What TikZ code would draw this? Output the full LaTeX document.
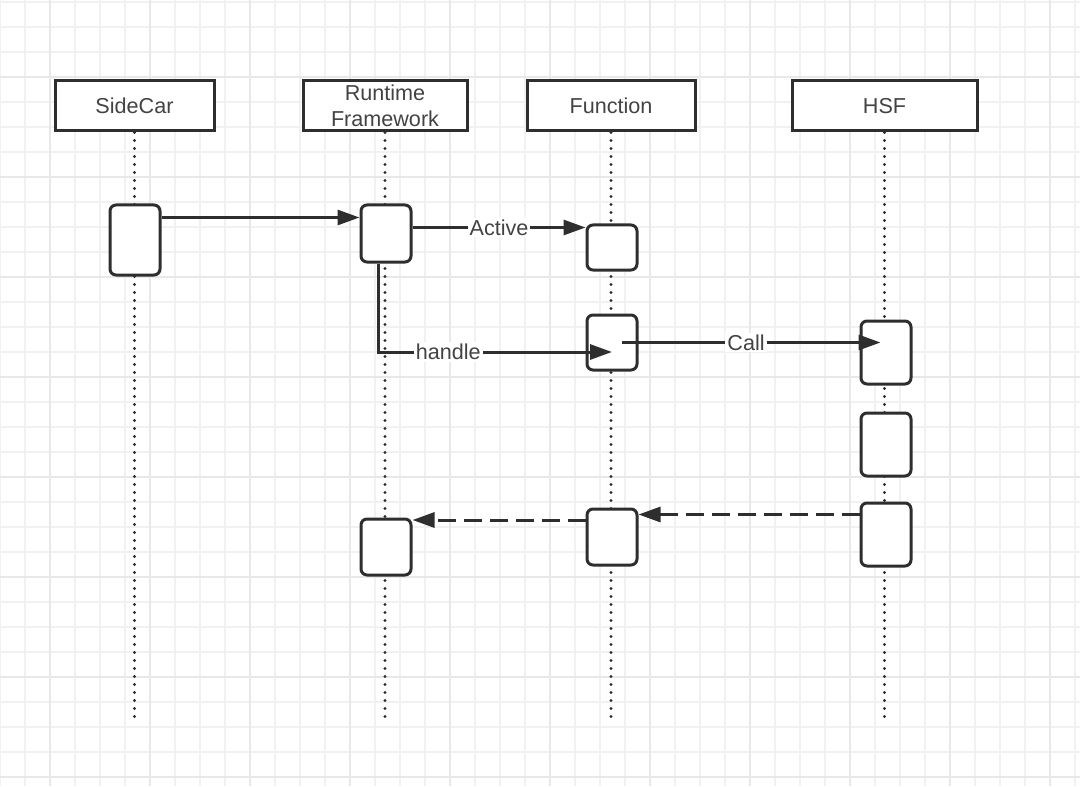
\documentclass[tikz,border=0pt]{standalone}
\usepackage{fontspec}
\setmainfont{Liberation Sans}
\usetikzlibrary{arrows.meta,positioning}
\definecolor{ink}{HTML}{2E2E2E}
\definecolor{gridminor}{HTML}{F1F1F1}
\definecolor{gridmajor}{HTML}{E8E8E8}

\begin{document}
\begin{tikzpicture}[x=0.5pt,y=-0.5pt,->,>={Triangle[length=11pt,width=7.5pt]},
                    line width=1.5pt, color=ink, font=\fontsize{10.8}{13}\selectfont]
	  \tikzstyle{header}=[draw,rectangle,fill=white,inner sep=0pt,minimum height=25pt,
	                      align=center,text=ink!90]
	  \tikzstyle{act}=[draw,rectangle,rounded corners=3pt,fill=white,minimum width=25pt,inner sep=0pt]
	  \tikzstyle{lifeline}=[-,line width=1.7pt,dash pattern=on 0pt off 4pt,line cap=round]
	  \tikzstyle{reply}=[dash pattern=on 9pt off 4pt]
	  \tikzstyle{lbl}=[fill=white,inner sep=1pt,text=ink!90]

	  \useasboundingbox (0,0) rectangle (1080,786);

	  % background grid
	  \foreach \gx in {0,25,...,1075}
	    \draw[-,gridminor,line width=0.6pt] (\gx,0) -- (\gx,786);
	  \foreach \gy in {2,27,...,786}
	    \draw[-,gridminor,line width=0.6pt] (0,\gy) -- (1080,\gy);
	  \foreach \gx in {50,150,...,1050}
	    \draw[-,gridmajor,line width=0.7pt] (\gx,0) -- (\gx,786);
	  \foreach \gy in {77,177,...,786}
	    \draw[-,gridmajor,line width=0.7pt] (0,\gy) -- (1080,\gy);

	  % participants
	  \node[header,minimum width=79.5pt] (SC)  at (134.5,106) {SideCar};
	  \node[header,minimum width=82pt]   (RF)  at (385,106)   {Runtime\\Framework};
	  \node[header,minimum width=84pt]   (FN)  at (611,106)   {Function};
	  \node[header,minimum width=92.5pt] (HSF) at (884.5,106) {HSF};

	  \coordinate (bottom) at (0,718);
	  \draw[lifeline] (SC.south)  -- (SC.south |- bottom);
	  \draw[lifeline] (RF.south)  -- (RF.south |- bottom);
	  \draw[lifeline] (FN.south)  -- (FN.south |- bottom);
	  \draw[lifeline] (HSF.south) -- (HSF.south |- bottom);

	  % activations
	  \node[act,minimum height=35pt]   (SC1) at (135,240)   {};
	  \node[act,minimum height=28.5pt] (RF1) at (386,233.5) {};
	  \node[act,minimum height=22.5pt] (FN1) at (612,247.5) {};
	  \node[act,minimum height=27.5pt] (FN2) at (612,342.5) {};
	  \node[act,minimum height=31.5pt] (H1)  at (886,352.5) {};
	  \node[act,minimum height=31.5pt] (H2)  at (886,444.5) {};
	  \node[act,minimum height=31.5pt] (H3)  at (886,534.5) {};
	  \node[act,minimum height=28pt]   (FN3) at (612,537)   {};
	  \node[act,minimum height=28pt]   (RF2) at (386,547)   {};

	  % messages
	  \draw ([yshift=-7pt]SC1.north east) -- ([yshift=-7pt]RF1.north west);
	  \draw ([yshift=-12pt]RF1.north east) -- node[lbl] {Active} ([yshift=-12pt]RF1.north east -| FN1.west);
	  \coordinate (hs) at ([xshift=-4pt]RF1.south);
	  \draw (hs) |- node[lbl,pos=0.65] {handle} ([yshift=-4.75pt]FN2.center);
	  \coordinate (ce) at ([xshift=5.5pt]H1.west);
	  \draw ([xshift=5pt]FN2.center) -- node[lbl,pos=0.48] {Call} ([xshift=5pt]FN2.center -| ce);
	  \draw[reply] ([yshift=10pt]H3.west) -- ([yshift=10pt]H3.west -| FN3.east);
	  \draw[reply] ([yshift=8.5pt]FN3.west) -- ([yshift=8.5pt]FN3.west -| RF2.east);
	\end{tikzpicture}
\end{document}
